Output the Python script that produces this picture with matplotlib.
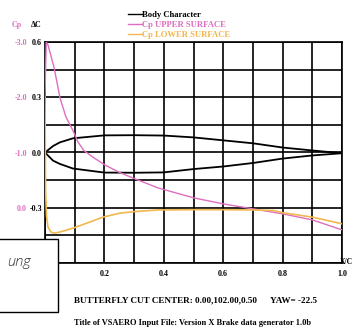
import matplotlib
matplotlib.use("Agg")
import matplotlib.pyplot as plt
from matplotlib.patches import Rectangle
import numpy as np

# ---- data ----
body_x = [0, 0.027, 0.05, 0.094, 0.2, 0.3, 0.4, 0.5, 0.6, 0.7, 0.8, 0.9, 1.0]
body_upper = [0, 0.035, 0.055, 0.077, 0.093, 0.094, 0.092, 0.082, 0.066, 0.05, 0.027, 0.011, -0.004]
body_lower = [0, -0.044, -0.062, -0.087, -0.109, -0.11, -0.108, -0.09, -0.076, -0.057, -0.033, -0.016, -0.004]

cp_up_x = [0, 0.004, 0.01, 0.02, 0.03, 0.04, 0.05, 0.07, 0.094, 0.11, 0.13, 0.16, 0.2,
           0.25, 0.3, 0.38, 0.5, 0.6, 0.7, 0.8, 0.9, 1.0]
cp_up = [-2.0, -3.0, -2.95, -2.75, -2.55, -2.28, -2.0, -1.65, -1.4, -1.2, -1.04, -0.92, -0.78,
         -0.64, -0.53, -0.36, -0.18, -0.07, 0.02, 0.11, 0.22, 0.40]

cp_lo_x = [0, 0.002, 0.005, 0.01, 0.02, 0.03, 0.05, 0.094, 0.15, 0.195, 0.25, 0.3, 0.38,
           0.5, 0.6, 0.7, 0.77, 0.8, 0.9, 1.0]
cp_lo = [-2.0, -0.3, 0.15, 0.35, 0.44, 0.46, 0.44, 0.37, 0.26, 0.17, 0.1, 0.07, 0.04,
         0.035, 0.035, 0.04, 0.05, 0.09, 0.17, 0.29]

x_ticks = [0.2, 0.4, 0.6, 0.8, 1.0]
x_labels = ["0.2", "0.4", "0.6", "0.8", "1.0"]
zc_ticks = [0.6, 0.3, 0.0, -0.3]
zc_labels = ["0.6", "0.3", "0.0", "-0.3"]
cp_ticks = [-3.0, -2.0, -1.0, 0.0]
cp_labels = ["-3.0", "-2.0", "-1.0", "0.0"]

series_names = ["Body Character", "Cp UPPER SURFACE", "Cp LOWER SURFACE"]
footer1 = "BUTTERFLY CUT CENTER: 0.00,102.00,0.50      YAW= -22.5"
footer2 = "Title of VSAERO Input File: Version X Brake data generator 1.0b"

PINK = "#dd6fc0"
ORANGE = "#f0b84e"
FONT = "Liberation Serif"

W, H = 354, 329
fig = plt.figure(figsize=(W / 100, H / 100), dpi=100)
fig.patch.set_facecolor("white")

def fx(px):
    return px / W

def fy(py):
    return 1 - py / H

L, R, T, B = 45, 342, 42, 263
ax = fig.add_axes([fx(L), fy(B), fx(R) - fx(L), fy(T) - fy(B)])
ax.set_xlim(0, 1.0)
ax.set_ylim(-0.6, 0.6)

# grid
for xv in np.arange(0, 1.01, 0.1):
    ax.axvline(xv, color="black", lw=1.2, zorder=1)
for yv in np.arange(-0.6, 0.61, 0.15):
    ax.axhline(yv, color="black", lw=1.2, zorder=1)
for s in ax.spines.values():
    s.set_linewidth(1.2)

ax.set_xticks(x_ticks)
ax.set_xticklabels(x_labels, fontfamily=FONT, fontweight="bold", fontsize=5.8)
ax.set_yticks(zc_ticks)
ax.set_yticklabels(zc_labels, fontfamily=FONT, fontweight="bold", fontsize=5.8)
ax.tick_params(axis="both", length=0, pad=2)
ax.tick_params(axis="x", pad=5)

# body
ax.plot(body_x, body_upper, color="black", lw=1.3, zorder=3)
ax.plot(body_x, body_lower, color="black", lw=1.3, zorder=3)

# Cp axis
ax2 = ax.twinx()
ax2.set_ylim(1.0, -3.0)
ax2.set_xlim(0, 1.0)
ax2.yaxis.set_ticks_position("left")
ax2.set_yticks(cp_ticks)
ax2.set_yticklabels(cp_labels, fontfamily=FONT, fontweight="bold", fontsize=5.8, color=PINK)
ax2.tick_params(axis="y", length=0, pad=13)
for s in ax2.spines.values():
    s.set_visible(False)
ax2.plot(cp_up_x, cp_up, color=PINK, lw=1.0, zorder=4)
ax2.plot(cp_lo_x, cp_lo, color=ORANGE, lw=1.2, zorder=5)

# header labels
fig.text(fx(12), fy(25), "Cp", color=PINK, fontfamily=FONT, fontweight="bold",
         fontsize=5.8, va="center", ha="left")
fig.text(fx(31), fy(25), "ΔC", color="black", fontfamily=FONT, fontweight="bold",
         fontsize=5.8, va="center", ha="left")
fig.text(fx(353), fy(262), "X/C", color="black", fontfamily=FONT, fontweight="bold",
         fontsize=5.5, va="center", ha="right")

# legend
leg_cols = ["black", PINK, ORANGE]
for i, (name, c) in enumerate(zip(series_names, leg_cols)):
    yy = 14 + 10 * i
    fig.add_artist(plt.Line2D([fx(128), fx(142)], [fy(yy), fy(yy)], color=c, lw=1.0))
    fig.text(fx(142), fy(yy + 1), name, color=c, fontfamily=FONT, fontweight="bold",
             fontsize=6.2, va="center", ha="left")

# footers
fig.text(fx(195), fy(300), footer1, fontfamily=FONT, fontweight="bold", fontsize=6.6,
         ha="center", va="center")
fig.text(fx(193), fy(323), footer2, fontfamily=FONT, fontweight="bold", fontsize=6.0,
         ha="center", va="center")

# overlay box
fig.add_artist(Rectangle((fx(-3), fy(312)), fx(61), fy(239) - fy(312), transform=fig.transFigure,
                         facecolor="white", edgecolor="black", lw=1.0, zorder=10))
fig.text(fx(7), fy(262), "ung", fontfamily="Open Sans", style="italic", fontweight="light",
         fontsize=10.5, color="#333333", ha="left", va="center", zorder=11)

fig.savefig("out.png", dpi=100)
